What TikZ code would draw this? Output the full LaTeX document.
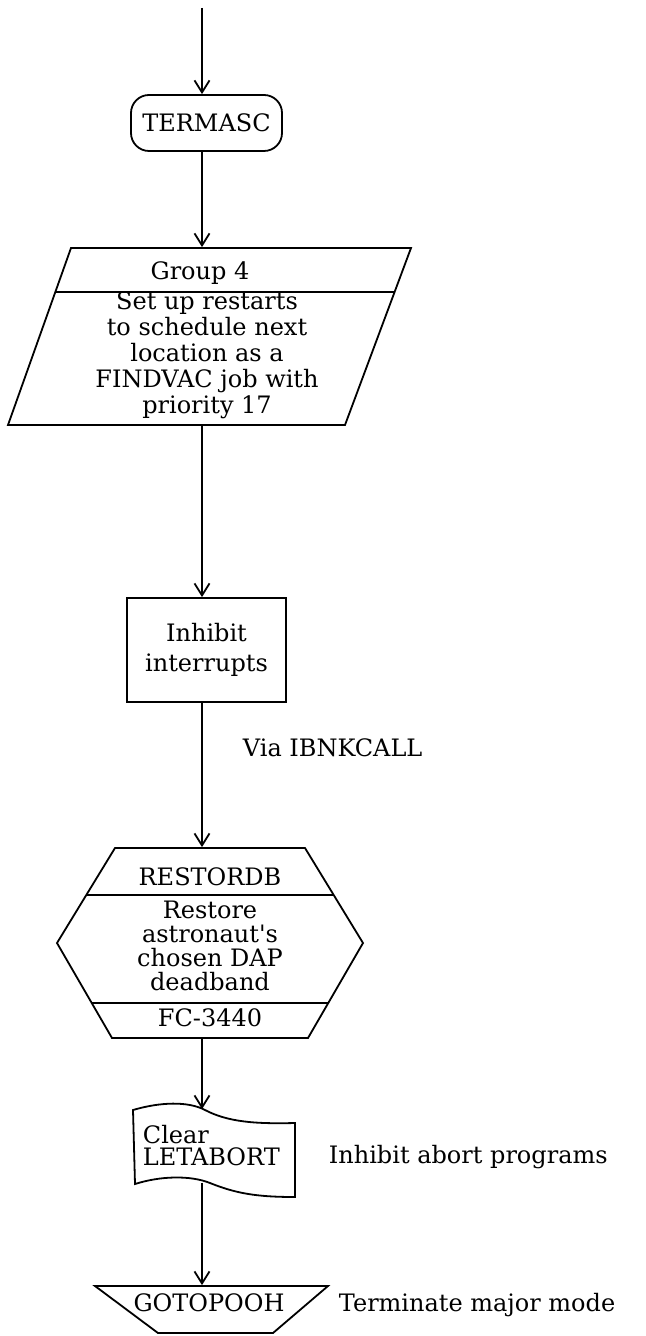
\documentclass[tikz,border=0pt]{standalone}
\usepackage{fontspec}
\setmainfont{DejaVu Serif}
\usetikzlibrary{arrows.meta,calc}
\begin{document}
\begin{tikzpicture}[x=0.5pt,y=-0.5pt,
  line width=0.9pt,
  every node/.style={font=\fontsize{12}{13}\selectfont},
  flow/.style={-{Straight Barb[length=6pt,width=7.5pt]}},
  frame/.style={draw=none, inner sep=0pt},
  txt/.style={inner sep=0pt, align=center},
  note/.style={inner sep=0pt, anchor=west},
  ]
\useasboundingbox (0,0) rectangle (645,1336);

% entry point of the flow
\coordinate (start) at (202,8);

% terminal
\node[draw, rounded corners=9pt, minimum width=75.5pt, minimum height=28pt,
      inner sep=0pt] (termasc) at (206.5,123) {TERMASC};

% Group 4 restart set-up (parallelogram with title bar)
\node[frame, minimum width=201.5pt, minimum height=88.5pt] (grp) at (209.5,336.5) {};
\draw (71,248) -- (411,248) -- (345,425) -- (8,425) -- cycle;
\draw (55,292) -- (395,292);
\node[txt] (grptitle) at (200,273) {Group 4};
\node[txt, font=\fontsize{12}{13}\selectfont] (grpbody) at (207,355)
  {Set up restarts\\to schedule next\\location as a\\FINDVAC job with\\priority 17};

% inhibit interrupts
\node[draw, minimum width=79.5pt, minimum height=52pt, inner sep=0pt,
      align=center, font=\fontsize{12}{15}\selectfont] (inhibit) at (206.5,650)
  {Inhibit\\interrupts};
\node[note] (via) at (242,748) {Via IBNKCALL};

% RESTORDB subroutine (hexagon with two bars)
\node[frame, minimum width=153pt, minimum height=95pt] (hex) at (210,943) {};
\draw (115,848) -- (305,848) -- (363,943) -- (308,1038) -- (112,1038) -- (57,943) -- cycle;
\draw (86,895) -- (334,895);
\draw (92,1003) -- (328,1003);
\node[txt] (hextitle) at (210,877) {RESTORDB};
\node[txt, font=\fontsize{12}{12}\selectfont] (hexbody) at (210,946)
  {Restore\\astronaut\textquotesingle s\\chosen DAP\\deadband};
\node[txt] (hexref) at (210,1018) {FC-3440};

% Clear LETABORT (document shape)
\node[frame, minimum width=81pt, minimum height=36pt] (doc) at (214,1146) {};
\draw (133,1110) .. controls (160,1102) and (188,1101) .. (205,1110)
      .. controls (228,1122) and (255,1124) .. (295,1123)
      -- (295,1197)
      .. controls (255,1197) and (235,1193) .. (210,1183)
      .. controls (190,1175) and (160,1176) .. (135,1184)
      -- cycle;
\node[inner sep=0pt, align=left, anchor=west, font=\fontsize{12}{11}\selectfont]
  (doctext) at (142,1146) {Clear\\LETABORT};
\node[note] (abortnote) at (328,1157) {Inhibit abort programs};

% GOTOPOOH exit
\node[frame, minimum width=116.5pt, minimum height=23.5pt] (goto) at (211.5,1309.5) {};
\draw (95,1286) -- (328,1286) -- (273,1333) -- (158,1333) -- cycle;
\node[txt] (gototext) at (209,1303) {GOTOPOOH};
\node[note] (termnote) at (338,1305) {Terminate major mode};

% connectors
\draw[flow] (start) -- (start |- termasc.north);
\draw[flow] (start |- termasc.south) -- (start |- grp.north);
\draw[flow] (start |- grp.south) -- (start |- inhibit.north);
\draw[flow] (start |- inhibit.south) -- (start |- hex.north);
\draw[flow] (start |- hex.south) -- (start |- doc.north);
\draw[flow] (start |- doc.south) -- (start |- goto.north);
\end{tikzpicture}
\end{document}
